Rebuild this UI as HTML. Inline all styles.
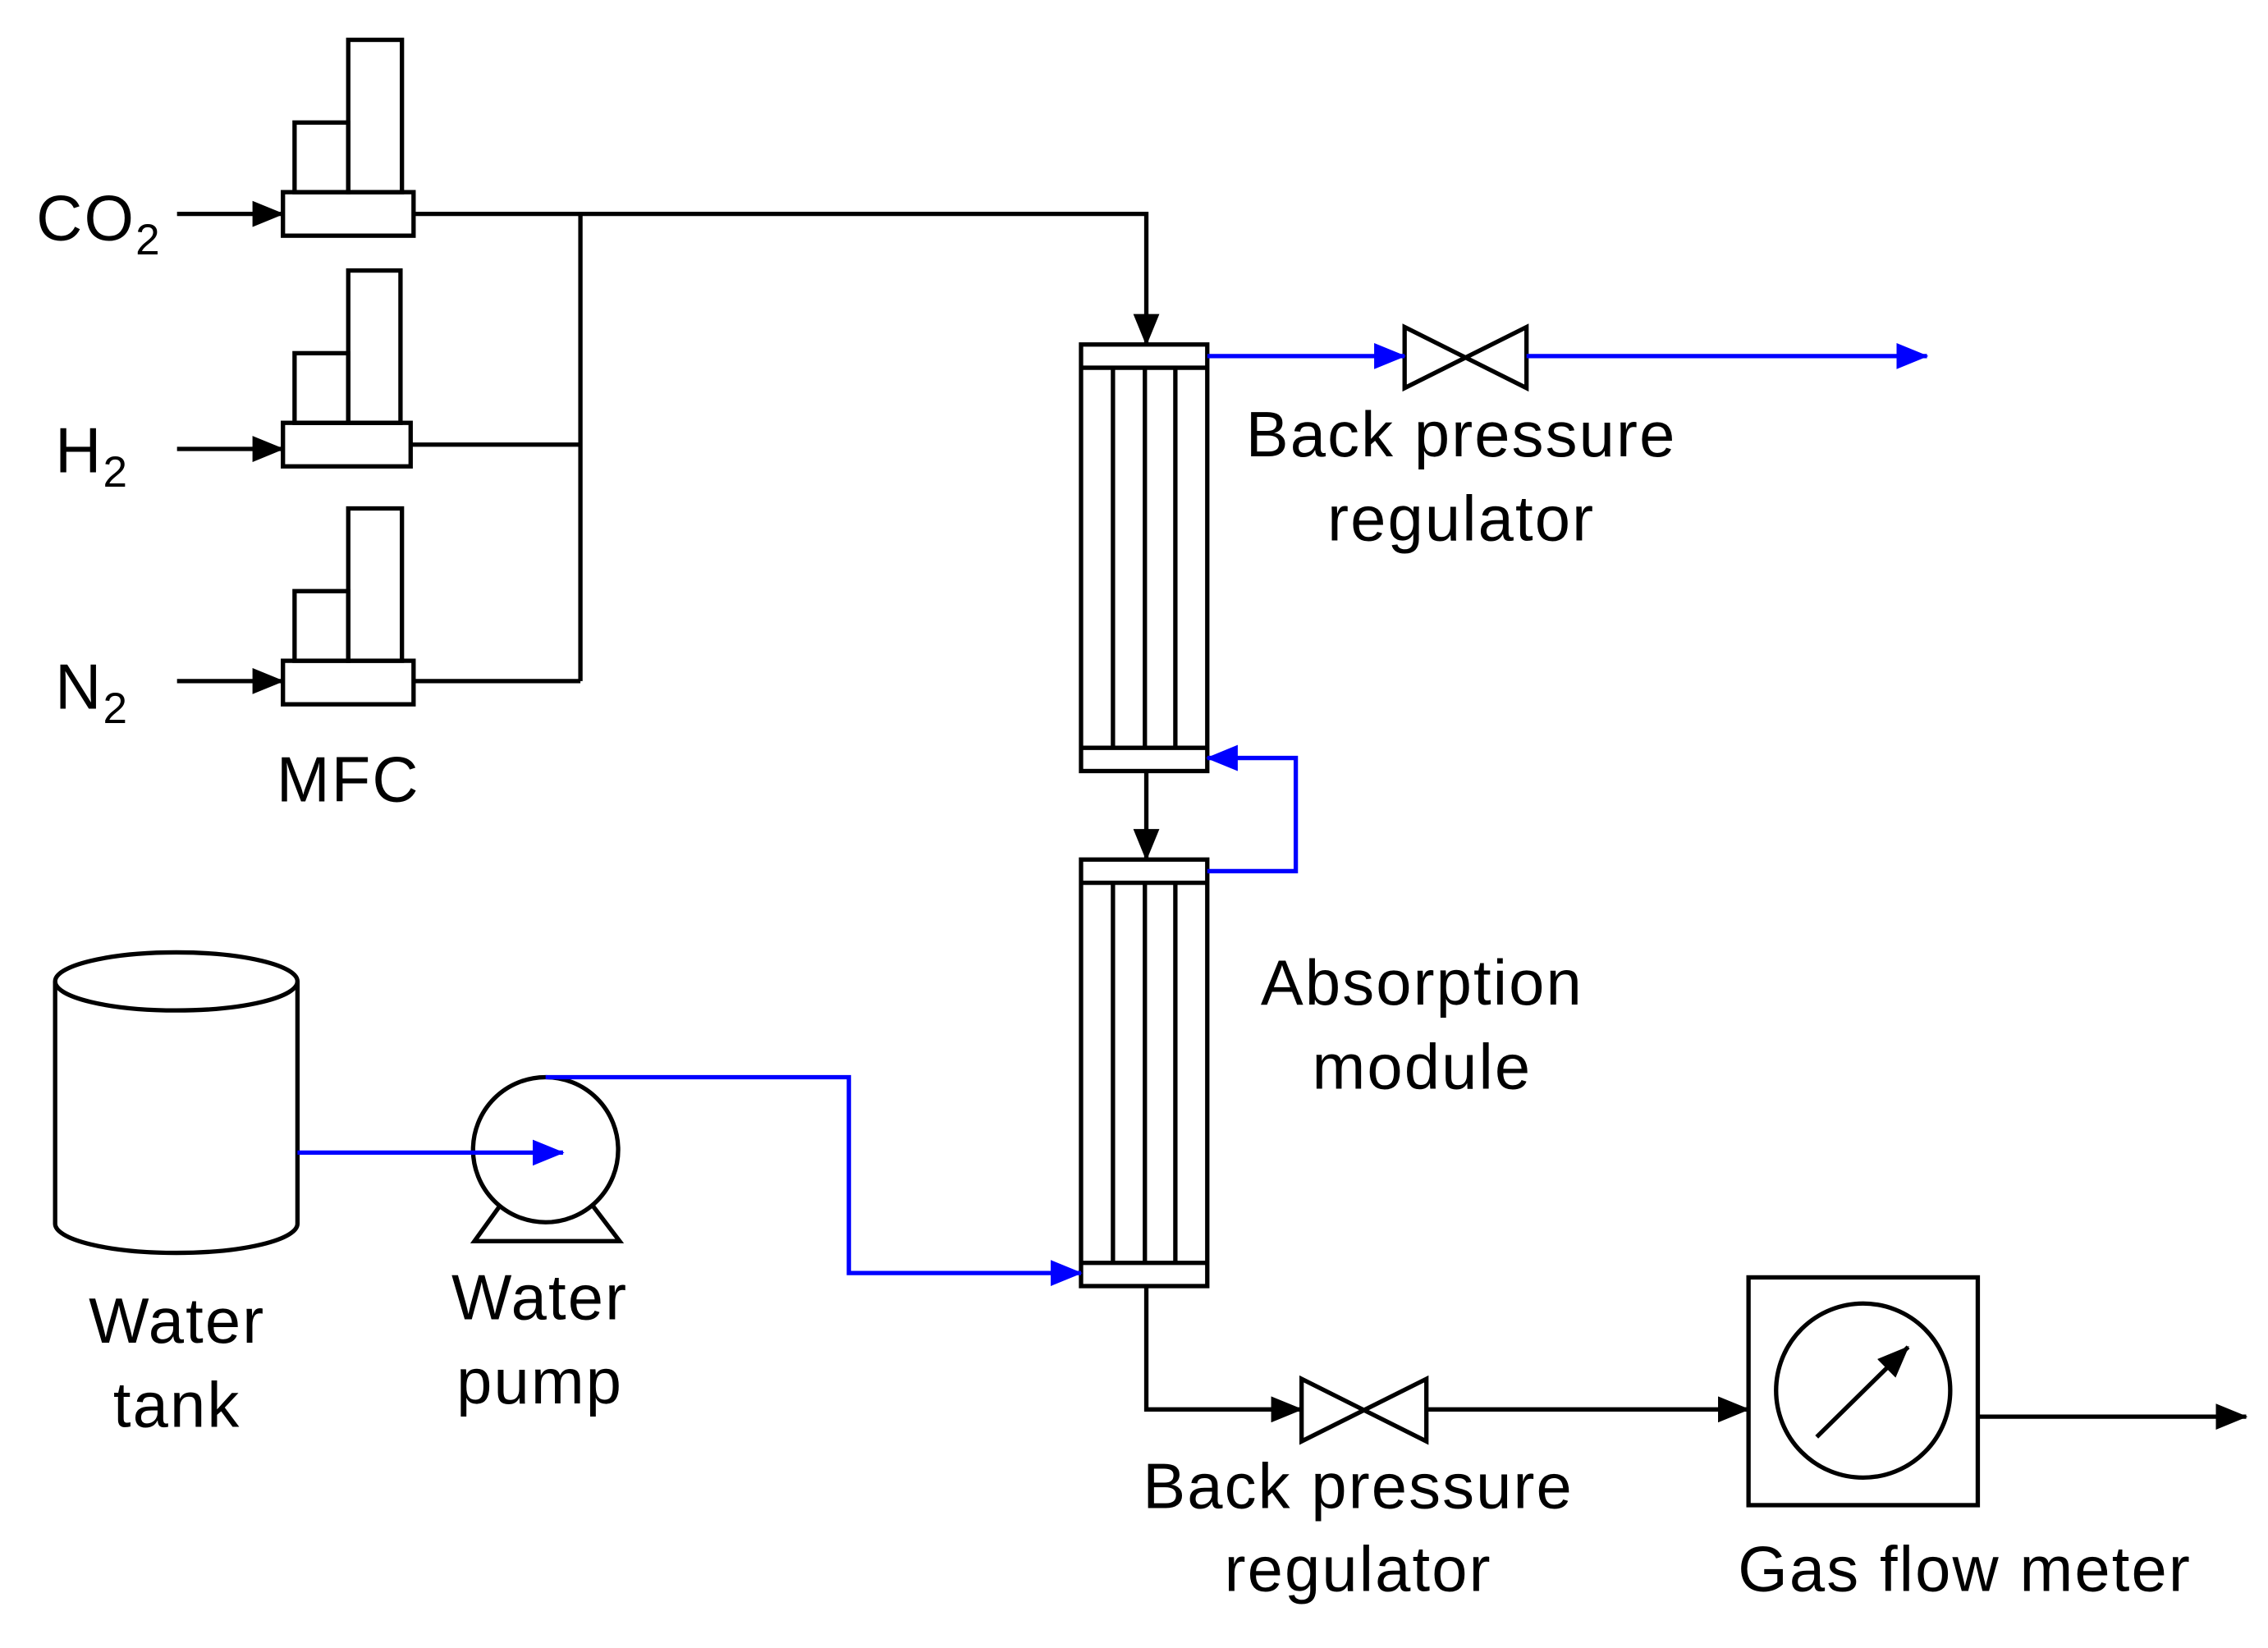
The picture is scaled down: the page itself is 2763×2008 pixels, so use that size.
<!DOCTYPE html>
<html><head><meta charset="utf-8"><style>
html,body{margin:0;padding:0;background:#fff;}
svg{display:block;}
text{font-family:"Liberation Sans","Noto Sans CJK KR",sans-serif;font-size:44px;fill:#000;letter-spacing:1.2px;}
</style></head><body>
<svg width="2763" height="2008" viewBox="0 0 1563 1135" xmlns="http://www.w3.org/2000/svg">
<defs>
<marker id="ab" markerWidth="22" markerHeight="18" refX="21" refY="9" orient="auto" markerUnits="userSpaceOnUse"><path d="M0,0 L22,9 L0,18 z" fill="#0000ff"/></marker>
<marker id="ak2" markerWidth="22" markerHeight="18" refX="21" refY="9" orient="auto" markerUnits="userSpaceOnUse"><path d="M0,0 L22,9 L0,18 z" fill="#000"/></marker>
</defs>
<g fill="none" stroke="#000" stroke-width="3">
<rect x="195" y="132" width="90" height="30"/><rect x="203" y="84" width="37" height="48"/><rect x="240" y="27" width="37" height="105"/>
<rect x="195" y="291" width="88" height="30"/><rect x="203" y="243" width="37" height="48"/><rect x="240" y="186" width="36" height="105"/>
<rect x="195" y="455" width="90" height="30"/><rect x="203" y="407" width="37" height="48"/><rect x="240" y="350" width="37" height="105"/>
<line x1="122" y1="147" x2="195" y2="147" marker-end="url(#ak2)"/>
<line x1="122" y1="309" x2="195" y2="309" marker-end="url(#ak2)"/>
<line x1="122" y1="469" x2="195" y2="469" marker-end="url(#ak2)"/>
<polyline points="285,147 790,147 790,237" marker-end="url(#ak2)"/>
<line x1="400" y1="147" x2="400" y2="469"/>
<line x1="283" y1="306" x2="400" y2="306"/>
<line x1="285" y1="469" x2="400" y2="469"/>
<rect x="745" y="237" width="87" height="294"/>
<line x1="745" y1="253" x2="832" y2="253"/><line x1="745" y1="515" x2="832" y2="515"/>
<line x1="767" y1="253" x2="767" y2="515"/><line x1="789" y1="253" x2="789" y2="515"/><line x1="810" y1="253" x2="810" y2="515"/>
<line x1="790" y1="531" x2="790" y2="592" marker-end="url(#ak2)"/>
<rect x="745" y="592" width="87" height="294"/>
<line x1="745" y1="608" x2="832" y2="608"/><line x1="745" y1="870" x2="832" y2="870"/>
<line x1="767" y1="608" x2="767" y2="870"/><line x1="789" y1="608" x2="789" y2="870"/><line x1="810" y1="608" x2="810" y2="870"/>
<path d="M968,225 L1052,267 L1052,225 L968,267 Z"/>
<path d="M38,676 L38,843 A83,20 0 0 0 205,843 L205,676"/>
<ellipse cx="121.5" cy="676" rx="83.5" ry="20"/>
<circle cx="376" cy="792" r="50"/>
<path d="M345,830 L327,855 L427,855 L408,830"/>
<polyline points="790,886 790,971 897,971" marker-end="url(#ak2)"/>
<path d="M897,950 L983,993 L983,950 L897,993 Z"/>
<line x1="983" y1="971" x2="1205" y2="971" marker-end="url(#ak2)"/>
<rect x="1205" y="880" width="158" height="157"/>
<circle cx="1284" cy="958" r="60"/>
<line x1="1252" y1="990" x2="1315" y2="928" marker-end="url(#ak2)"/>
<line x1="1363" y1="976" x2="1548" y2="976" marker-end="url(#ak2)"/>
</g>
<g fill="none" stroke="#0000ff" stroke-width="3">
<line x1="832" y1="245" x2="968" y2="245" marker-end="url(#ab)"/>
<line x1="1052" y1="245" x2="1328" y2="245" marker-end="url(#ab)"/>
<polyline points="832,600 893,600 893,522 832,522" marker-end="url(#ab)"/>
<line x1="205" y1="794" x2="388" y2="794" marker-end="url(#ab)"/>
<polyline points="376,742 585,742 585,877 745,877" marker-end="url(#ab)"/>
</g>
<text x="25" y="165">CO<tspan font-size="30" dy="10">2</tspan></text>
<text x="38" y="325">H<tspan font-size="30" dy="10">2</tspan></text>
<text x="38" y="488">N<tspan font-size="30" dy="10">2</tspan></text>
<text x="240" y="552" text-anchor="middle">MFC</text>
<text x="1007" y="314" text-anchor="middle">Back pressure</text>
<text x="1007" y="372" text-anchor="middle">regulator</text>
<text x="980" y="692" text-anchor="middle">Absorption</text>
<text x="980" y="750" text-anchor="middle">module</text>
<text x="122" y="925" text-anchor="middle">Water</text>
<text x="122" y="983" text-anchor="middle">tank</text>
<text x="372" y="909" text-anchor="middle">Water</text>
<text x="372" y="967" text-anchor="middle">pump</text>
<text x="936" y="1039" text-anchor="middle">Back pressure</text>
<text x="936" y="1096" text-anchor="middle">regulator</text>
<text x="1354" y="1096" text-anchor="middle">Gas flow meter</text>
</svg>
</body></html>
